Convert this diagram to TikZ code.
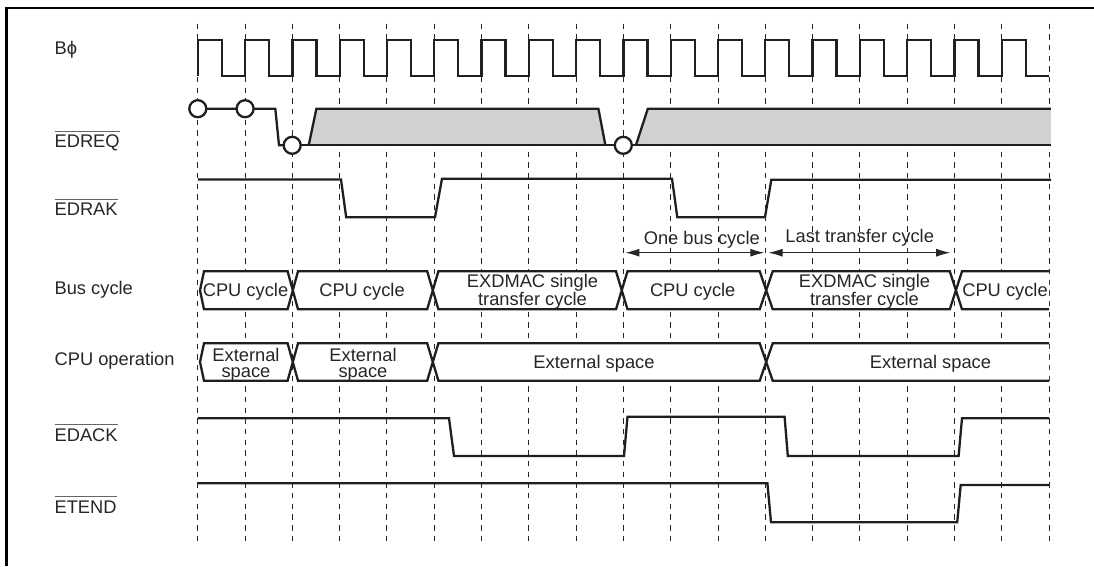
\documentclass[tikz,border=0pt]{standalone}
\usepackage{fontspec}
\setmainfont{Liberation Sans}
\usetikzlibrary{arrows.meta}
\newcommand{\ovl}[1]{\setbox0=\hbox{#1}\rlap{\raisebox{16pt}{\color{black!60}\rule{\wd0}{0.9pt}}}\box0}
\tikzset{
  sig/.style={line width=2.3pt, line join=miter, draw=black!88},
  grid/.style={line width=1pt, draw=black!85, dash pattern=on 5.5pt off 5.17pt},
  hex/.style={sig, fill=white},
  lab/.style={anchor=base west, inner sep=0pt, text=black!85, font=\fontsize{18.3}{18}\selectfont},
  txt/.style={anchor=center, inner sep=0pt, align=center, text=black!85, font=\fontsize{18.3}{16.2}\selectfont},
  circ/.style={circle, draw=black!88, line width=2.3pt, fill=white, minimum size=17pt, inner sep=0pt},
  dim/.style={line width=1pt, draw=black!85, {Latex[length=14pt,width=8pt]}-{Latex[length=14pt,width=8pt]}}
}
\begin{document}
\begin{tikzpicture}[x=1pt,y=-1pt]
\useasboundingbox (0,0) rectangle (1094,566);
% frame
\draw[line width=2.2pt, black] (6.5,566) -- (6.5,8) -- (1094,8);
% grid
\foreach \i in {0,...,18} {
  \pgfmathsetmacro{\xx}{197.8+47.29*\i}
  \draw[grid] (\xx,23.5) -- (\xx,541);
}
% clock
\draw[sig] (197.8,76)
  \foreach \i in {0,...,17} {
    \pgfextra{\pgfmathsetmacro{\xa}{197.8+47.29*\i}\pgfmathsetmacro{\xb}{\xa+24}\pgfmathsetmacro{\xc}{\xa+47.29}}
    -- (\xa,76) -- (\xa,40) -- (\xb,40) -- (\xb,76) -- (\xc,76)
  };
% EDREQ
\fill[black!18] (308.7,145.3) -- (316.4,108.7) -- (598.4,108.7) -- (605.4,145.3) -- cycle;
\fill[black!18] (635.9,145.3) -- (647.8,108.7) -- (1050.8,108.7) -- (1050.8,145.3) -- cycle;
\draw[sig] (197.8,108.7) -- (275.3,108.7) -- (279,145.3) -- (292.2,145.3);
\draw[sig] (292.2,145.3) -- (1050.8,145.3);
\draw[sig] (308.7,145.3) -- (316.4,108.7) -- (598.4,108.7) -- (605.4,145.3);
\draw[sig] (635.9,145.3) -- (647.8,108.7) -- (1050.8,108.7);
\node[circ] (c1) at (197.8,108.7) {};
\node[circ] (c2) at (245.1,108.7) {};
\node[circ] (c3) at (292.2,145.3) {};
\node[circ] (c4) at (623.3,145.3) {};
% EDRAK
\draw[sig] (197.8,179.5) -- (341,179.5) -- (346.2,217.3) -- (435,217.3) -- (442,178.7) -- (672,178.7) -- (677.3,217.3) -- (765,217.3) -- (771.3,179.7) -- (1051,179.7);
% dimension arrows
\coordinate (a1) at (625.4,252.7); \coordinate (a2) at (764.3,252.7);
\coordinate (b1) at (768.5,252.7); \coordinate (b2) at (950.2,252.7);
\draw[dim] (a1) -- (a2);
\draw[dim] (b1) -- (b2);
\node[txt] (t1) at (701.8,240) {One bus cycle};
\node[txt] (t2) at (859.7,238) {Last transfer cycle};
% Bus cycle
\draw[hex] (1049,271.3) -- (962,271.3) -- (949.8,309.3) -- (772.7,309.3) -- (759.7,271.3) -- (627.5,271.3) -- (616,309.3) -- (438.4,309.3) -- (427.2,271.3) -- (298,271.3) -- (287.6,309.3) -- (204,309.3) -- (200,290.3) -- (204,271.3) -- (287.6,271.3) -- (298,309.3) -- (427.2,309.3) -- (438.4,271.3) -- (616,271.3) -- (627.5,309.3) -- (759.7,309.3) -- (772.7,271.3) -- (949.8,271.3) -- (962,309.3) -- (1049,309.3);
\node[txt] (b01) at (245.5,291.5) {CPU cycle};
\node[txt] (b02) at (362,291.5) {CPU cycle};
\node[txt] (b03) at (532.5,291.5) {EXDMAC single\\transfer cycle};
\node[txt] (b04) at (692.7,291.5) {CPU cycle};
\node[txt] (b05) at (864.5,291.5) {EXDMAC single\\transfer cycle};
\node[txt] (b06) at (1005,291.5) {CPU cycle};
% CPU operation
\draw[hex] (1049,343.3) -- (772.7,343.3) -- (759.7,380.7) -- (438.4,380.7) -- (427.2,343.3) -- (298,343.3) -- (287.6,380.7) -- (204,380.7) -- (200,362) -- (204,343.3) -- (287.6,343.3) -- (298,380.7) -- (427.2,380.7) -- (438.4,343.3) -- (759.7,343.3) -- (772.7,380.7) -- (1049,380.7);
\node[txt] (o01) at (246,365) {External\\space};
\node[txt] (o02) at (363,365) {External\\space};
\node[txt] (o03) at (594,364) {External space};
\node[txt] (o04) at (930.5,364) {External space};
% EDACK
\draw[sig] (197.8,418.3) -- (449,418.3) -- (454,456) -- (624,456) -- (627.5,416.7) -- (784.6,416.7) -- (787.8,456) -- (958.6,456) -- (962,418.3) -- (1049,418.3);
% ETEND
\draw[sig] (197.8,483.3) -- (767.4,483.3) -- (771,522.3) -- (957.2,522.3) -- (960.7,485) -- (1049,485);
% labels
\node[lab] (l1) at (54.4,54) {Bϕ};
\node[lab] (l2) at (54.4,147.5) {\ovl{EDREQ}};
\node[lab] (l3) at (54.4,215.5) {\ovl{EDRAK}};
\node[lab] (l4) at (54.4,294.5) {Bus cycle};
\node[lab] (l5) at (54.4,365.5) {CPU operation};
\node[lab] (l6) at (54.4,441) {\ovl{EDACK}};
\node[lab] (l7) at (54.4,513) {\ovl{ETEND}};
\end{tikzpicture}
\end{document}
